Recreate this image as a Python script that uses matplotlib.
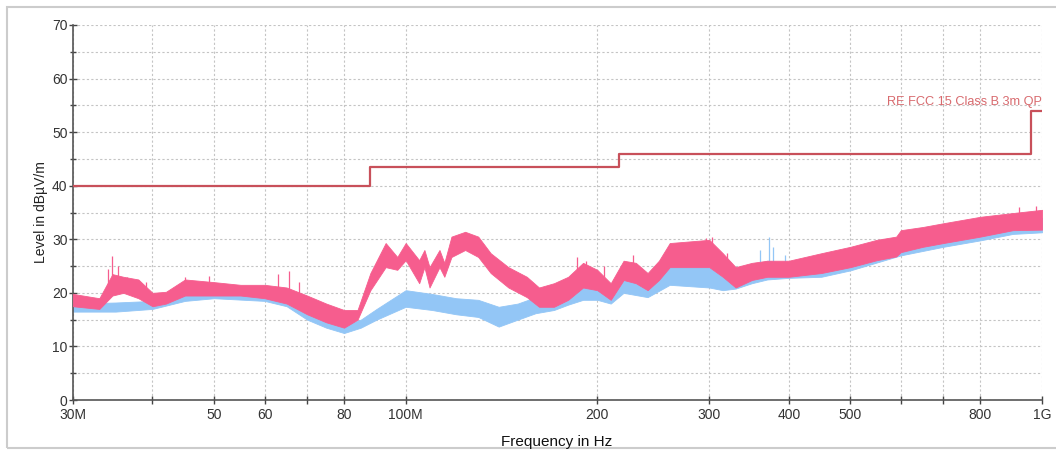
import matplotlib
matplotlib.use("Agg")
import matplotlib.pyplot as plt
from matplotlib.ticker import FixedLocator, NullFormatter, MultipleLocator
from matplotlib.patches import Rectangle

plt.rcParams['font.family'] = ['Liberation Sans', 'DejaVu Sans']

# frequencies in MHz, band edges in dBuV/m
pink_f = [30, 33, 34.6, 36, 38, 40, 42, 45, 50, 55, 60, 65, 70, 75, 80, 84, 88, 93, 97, 100,
          105, 107, 109, 113, 115, 118, 124, 130, 136, 145, 155, 162, 171, 180, 190, 200,
          210, 220, 230, 240, 250, 260, 300, 315, 330, 350, 370, 400, 450, 500, 550, 590,
          600, 650, 700, 800, 900, 1000]
pink_lo = [17.5, 17.0, 19.5, 20.0, 19.0, 17.5, 18.0, 19.5, 19.5, 19.5, 19.0, 18.0, 16.0, 14.5, 13.5, 15.0, 20.5, 24.8, 24.3, 26.1,
           21.8, 24.8, 21.0, 24.8, 23.0, 26.7, 28.0, 26.7, 23.7, 21.0, 19.2, 17.4, 17.4, 18.7, 21.0, 20.5,
           18.7, 22.4, 21.8, 20.5, 22.4, 24.8, 24.8, 23.0, 21.0, 22.4, 23.0, 23.0, 23.7, 24.8, 26.1, 26.8,
           27.6, 28.6, 29.3, 30.5, 31.7, 31.8]
pink_hi = [19.8, 19.0, 23.5, 23.0, 22.5, 20.0, 20.2, 22.5, 22.0, 21.5, 21.5, 21.0, 19.5, 18.0, 16.8, 16.8, 23.7, 29.3, 26.7, 29.3,
           26.1, 28.0, 24.8, 28.0, 25.6, 30.5, 31.4, 30.5, 27.4, 24.8, 23.0, 21.0, 21.8, 23.0, 25.6, 24.3,
           21.8, 26.0, 25.6, 23.7, 26.0, 29.3, 29.9, 27.4, 24.8, 25.6, 26.0, 26.0, 27.4, 28.6, 29.9, 30.5,
           31.7, 32.3, 33.0, 34.2, 34.9, 35.5]

blue_f = [30, 35, 40, 45, 50, 60, 65, 70, 75, 80, 85, 90, 100, 110, 120, 130, 140, 150, 160,
          171, 180, 190, 200, 210, 220, 240, 260, 300, 315, 330, 350, 370, 400, 450, 500,
          600, 700, 800, 900, 1000]
blue_lo = [16.5, 16.5, 17.0, 18.5, 19.0, 18.5, 17.5, 15.0, 13.5, 12.5, 13.5, 15.0, 17.4, 16.8, 16.0, 15.5, 13.7, 15.0, 16.2,
           16.8, 17.8, 18.7, 18.7, 18.0, 20.0, 19.2, 21.5, 21.0, 20.5, 20.8, 21.8, 22.5, 22.8, 23.0, 24.2,
           27.0, 28.6, 29.8, 31.0, 31.3]
blue_hi = [18.0, 18.2, 18.5, 20.0, 21.0, 20.5, 19.5, 17.0, 15.0, 14.0, 15.0, 17.0, 20.5, 19.8, 19.0, 18.7, 17.4, 18.0, 19.2,
           20.0, 20.5, 21.0, 21.0, 20.5, 22.4, 21.8, 25.0, 24.8, 23.0, 23.0, 25.0, 26.0, 25.5, 26.0, 27.0,
           30.0, 31.5, 32.8, 33.5, 34.0]

# isolated peaks poking out of the bands (bottom, top)
pink_spike_f = [34.0, 34.6, 35.3, 36.5, 39.0, 45.0, 49.0, 63.0, 65.5, 68.0, 186, 192, 205, 228, 296, 303, 320, 920, 980]
pink_spike_lo = [21.0, 22.0, 21.5, 21.0, 20.0, 21.0, 21.0, 20.5, 20.0, 19.0, 24.0, 24.0, 23.0, 24.0, 28.0, 28.0, 25.0, 34.0, 34.5]
pink_spike_hi = [24.5, 26.9, 25.0, 23.0, 22.0, 23.0, 23.2, 23.5, 24.0, 22.0, 26.7, 26.0, 25.0, 27.0, 30.2, 30.5, 27.5, 36.0, 36.2]
blue_spike_f = [360, 372, 378, 395]
blue_spike_lo = [25.0, 25.5, 25.5, 25.5]
blue_spike_hi = [28.0, 30.5, 28.5, 27.0]

limit_f = [30, 88, 88, 216, 216, 960, 960, 1000]
limit_v = [40, 40, 43.5, 43.5, 46, 46, 54, 54]

major_f = [30, 40, 50, 60, 70, 80, 100, 200, 300, 400, 500, 600, 700, 800, 1000]
labels_f = ["30M", "", "50", "60", "", "80", "100M", "200", "300", "400", "500", "", "", "800", "1G"]

pink = "#f65d8e"
blue = "#93c6f6"
red = "#c8505a"

fig = plt.figure(figsize=(10.56, 4.5), dpi=100)
ax = fig.add_axes([73 / 1056, 50 / 450, 969 / 1056, 375 / 450])

ax.fill_between(blue_f, blue_lo, blue_hi, color=blue, lw=0.6, zorder=2)
ax.vlines(blue_spike_f, blue_spike_lo, blue_spike_hi, color=blue, lw=0.9, zorder=2)
ax.fill_between(pink_f, pink_lo, pink_hi, color=pink, lw=0.6, zorder=3)
ax.vlines(pink_spike_f, pink_spike_lo, pink_spike_hi, color=pink, lw=0.9, zorder=3)
ax.plot(limit_f, limit_v, color=red, lw=1.6, zorder=4)
ax.text(1000, 55.6, "RE FCC 15 Class B 3m QP", color="#d86a6e", fontsize=9.2,
        ha="right", va="center", zorder=5)

ax.set_xscale("log")
ax.set_xlim(30, 1000)
ax.set_ylim(0, 70)
ax.xaxis.set_major_locator(FixedLocator(major_f))
ax.xaxis.set_minor_locator(FixedLocator([]))
ax.xaxis.set_minor_formatter(NullFormatter())
ax.set_xticklabels(labels_f)
ax.yaxis.set_major_locator(MultipleLocator(10))
ax.yaxis.set_minor_locator(MultipleLocator(5))

ax.grid(which="major", color="#c4c4c4", ls=(0, (2, 2)), lw=0.8)
ax.grid(which="minor", axis="y", color="#c4c4c4", ls=(0, (2, 2)), lw=0.8)
ax.set_axisbelow(True)

for s in ["top", "right"]:
    ax.spines[s].set_visible(False)
for s in ["left", "bottom"]:
    ax.spines[s].set_color("#555555")
    ax.spines[s].set_linewidth(1.2)

ax.tick_params(which="major", direction="inout", length=6, width=1, color="#444444",
               labelsize=10, labelcolor="#333333")
ax.tick_params(axis="y", which="minor", direction="inout", length=5, width=1, color="#444444")
ax.tick_params(axis="x", pad=3)
ax.tick_params(axis="y", pad=1)

ax.set_ylabel("Level in dBµV/m", fontsize=10, color="#222222", labelpad=3)
fig.text(557 / 1056, 1 - 442 / 450, "Frequency in Hz", fontsize=11, color="#111111",
         ha="center", va="center")

fig.patches.append(Rectangle((7 / 1056, 2 / 450), 1.1, 441 / 450, transform=fig.transFigure,
                             fill=False, edgecolor="#cccccc", lw=1.5))

fig.savefig("out.png", dpi=100)
